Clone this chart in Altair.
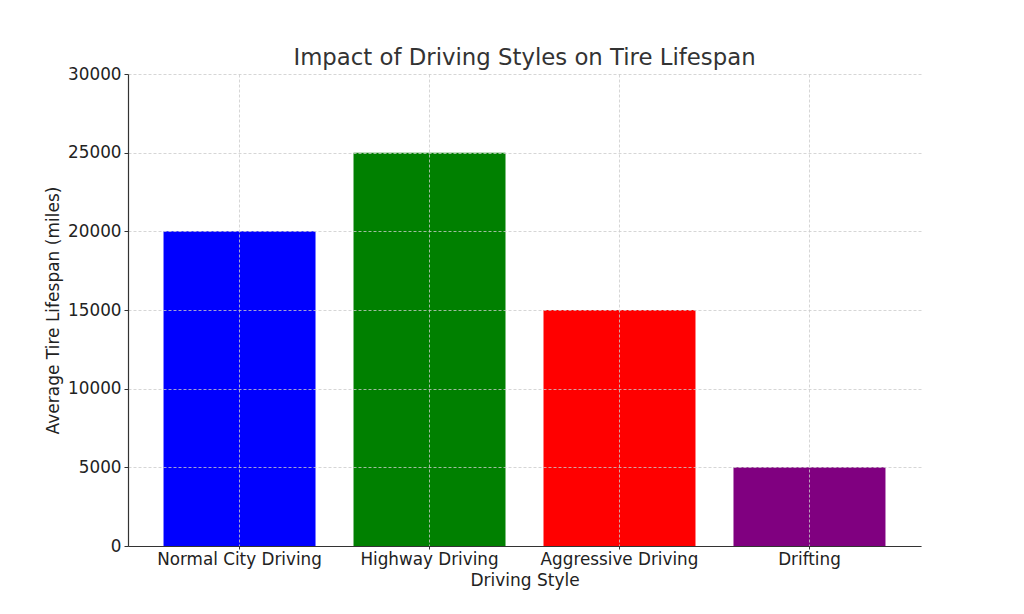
import altair as alt
import pandas as pd

styles = ["Normal City Driving", "Highway Driving", "Aggressive Driving", "Drifting"]
lifespans = [20000, 25000, 15000, 5000]
colors = ["#0000ff", "#008000", "#ff0000", "#800080"]

df = pd.DataFrame({"style": styles, "life": lifespans, "color": colors})

FONT = "DejaVu Sans"

chart = alt.Chart(df).mark_bar().encode(
    x=alt.X("style:N", sort=styles, title="Driving Style",
            scale=alt.Scale(paddingInner=0.2, paddingOuter=0.187),
            axis=alt.Axis(labelAngle=0, bandPosition=0.5, grid=True, zindex=1,
                          gridDash=[3, 2], gridColor="#cccccc", gridWidth=0.8,
                          tickSize=3, tickColor="#333333", domainColor="#333333",
                          domainWidth=1.2, labelFontSize=16.8, labelColor="#222222",
                          labelPadding=2, titleFontSize=17, titleColor="#222222",
                          titleFontWeight="normal", titlePadding=5, labelFont=FONT, titleFont=FONT)),
    y=alt.Y("life:Q", title="Average Tire Lifespan (miles)",
            scale=alt.Scale(domain=[0, 30000], nice=False),
            axis=alt.Axis(values=[0, 5000, 10000, 15000, 20000, 25000, 30000], grid=True, zindex=1,
                          gridDash=[3, 2], gridColor="#cccccc", gridWidth=0.8,
                          tickSize=4, tickColor="#333333", domainColor="#333333",
                          domainWidth=1.2, labelFontSize=16.8, labelColor="#222222",
                          labelPadding=3, titleFontSize=17, titleColor="#222222",
                          titleFontWeight="normal", titlePadding=5, labelFont=FONT, titleFont=FONT,
                          format="d")),
    color=alt.Color("color:N", scale=None, legend=None),
).properties(
    width=793,
    height=472,
    title=alt.TitleParams("Impact of Driving Styles on Tire Lifespan", fontSize=22.8,
                          font=FONT, fontWeight="normal", color="#333333", offset=-4),
    autosize=alt.AutoSizeParams(type="none"),
    padding={"left": 120, "top": 66, "right": 80, "bottom": 50},
).configure_view(stroke=None)

chart.save("out.html", embed_options={"renderer": "svg", "actions": False})
